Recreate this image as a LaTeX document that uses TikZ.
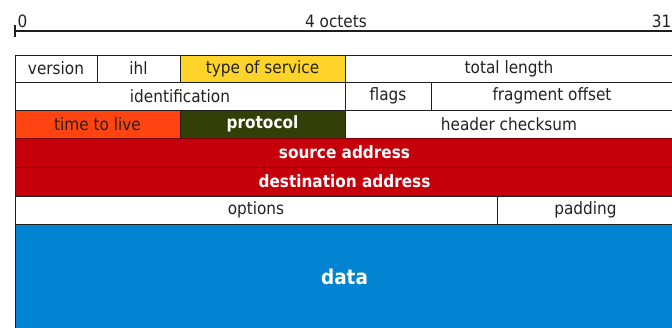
\documentclass[tikz,border=0pt]{standalone}
\usepackage{fontspec}
\setmainfont{DejaVu Sans Condensed}
\definecolor{tosyellow}{RGB}{255,212,42}
\definecolor{ttlorange}{RGB}{255,68,17}
\definecolor{protolive}{RGB}{50,64,8}
\definecolor{addrred}{RGB}{198,0,11}
\definecolor{datablue}{RGB}{0,132,209}
\definecolor{celltext}{RGB}{34,34,34}
\definecolor{cellline}{RGB}{30,30,30}
\tikzset{
  cell/.style={draw=cellline, line width=0.9pt, rectangle, inner sep=0pt, font=\fontsize{17}{20}\selectfont, text=celltext, fill=white},
  boldcell/.style={cell, font=\fontsize{17}{20}\selectfont\bfseries, text=white},
  ruletext/.style={inner sep=0pt, font=\fontsize{17}{20}\selectfont, text=celltext, anchor=base}
}
\begin{document}
\begin{tikzpicture}[x=1pt,y=-1pt]
\useasboundingbox (0,0) rectangle (672,327);
% ruler
\coordinate (rl) at (15,31);
\coordinate (rr) at (680,31);
\coordinate (tt) at (15,25);
\coordinate (tb) at (15,37);
\draw[line width=1.5pt, cellline] (rl) -- (rr);
\draw[line width=1.1pt, cellline] (tt) -- (tb);
\node[ruletext, anchor=base west] (zero) at (17.5,27) {0};
\node[ruletext] (oct) at (336,27) {4 octets};
\node[ruletext, anchor=base east] (thirtyone) at (671.5,27) {31};
% row 1
\node[cell, minimum width=82pt, minimum height=27pt] (ver) at (56,68.5) {version};
\node[cell, minimum width=83pt, minimum height=27pt] (ihl) at (138.5,68.5) {ihl};
\node[cell, fill=tosyellow, minimum width=165pt, minimum height=27pt] (tos) at (262.5,68.5) {type of service};
\node[cell, minimum width=328pt, minimum height=27pt] (tl) at (509,68.5) {total length};
% row 2
\node[cell, minimum width=330pt, minimum height=28pt] (ident) at (180,96) {identification};
\node[cell, minimum width=86pt, minimum height=28pt] (flags) at (388,96) {flags};
\node[cell, minimum width=242pt, minimum height=28pt] (frag) at (552,96) {fragment offset};
% row 3
\node[cell, fill=ttlorange, minimum width=165pt, minimum height=28pt] (ttl) at (97.5,124) {time to live};
\node[boldcell, fill=protolive, minimum width=165pt, minimum height=28pt] (proto) at (262.5,124) {protocol};
\node[cell, minimum width=328pt, minimum height=28pt] (chk) at (509,124) {header checksum};
% rows 4,5
\node[boldcell, draw=addrred!60!black, fill=addrred, minimum width=659pt, minimum height=29pt] (src) at (344.5,152.5) {source address};
\node[boldcell, draw=addrred!60!black, fill=addrred, minimum width=659pt, minimum height=29pt] (dst) at (344.5,181.5) {destination address};
% row 6
\node[cell, minimum width=482pt, minimum height=28pt] (opt) at (256,210) {options};
\node[cell, minimum width=177pt, minimum height=28pt] (pad) at (585.5,210) {padding};
% data
\node[boldcell, font=\fontsize{20.5}{24}\selectfont\bfseries, fill=datablue, minimum width=659pt, minimum height=106pt] (data) at (344.5,277) {data};
\end{tikzpicture}
\end{document}
